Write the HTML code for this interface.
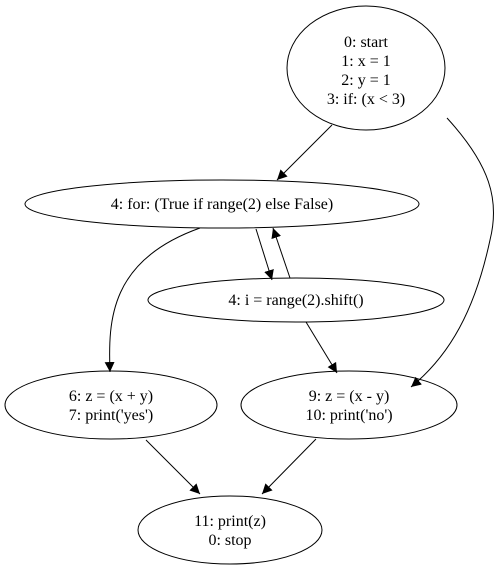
<!DOCTYPE html>
<html><head><style>body{margin:0;background:#fff}svg{display:block}text{font-family:"Liberation Serif",serif;font-size:16px;text-anchor:middle}</style></head>
<body>
<svg width="501" height="570" viewBox="0 0 501 570" xmlns="http://www.w3.org/2000/svg">
<defs><marker id="a" viewBox="0 0 10 10" refX="10" refY="5" markerWidth="10" markerHeight="10" markerUnits="userSpaceOnUse" orient="auto"><path d="M0,0L10,5L0,10z" fill="#000"/></marker></defs>
<g fill="none" stroke="#000" stroke-width="1">
<ellipse cx="366" cy="68" rx="79" ry="62"/>
<ellipse cx="222" cy="204" rx="197" ry="24"/>
<ellipse cx="296" cy="300" rx="148" ry="22"/>
<ellipse cx="111" cy="405" rx="106" ry="34"/>
<ellipse cx="349" cy="405" rx="108" ry="34"/>
<ellipse cx="230" cy="530" rx="92" ry="34"/>
<path d="M332,125L277,180" marker-end="url(#a)"/>
<path d="M447,118C490,165 500,200 490,240C475,310 450,355 411,387" marker-end="url(#a)"/>
<path d="M200,228C110,260 108,320 110,372" marker-end="url(#a)"/>
<path d="M256,229L272,280" marker-end="url(#a)"/>
<path d="M290,278L273,228" marker-end="url(#a)"/>
<path d="M306,322L337,373" marker-end="url(#a)"/>
<path d="M146,440L200,494" marker-end="url(#a)"/>
<path d="M316,439L262,494" marker-end="url(#a)"/>
</g>
<text x="366" y="47">0: start</text>
<text x="366" y="66">1: x = 1</text>
<text x="366" y="85">2: y = 1</text>
<text x="366" y="104">3: if: (x &lt; 3)</text>
<text x="222" y="209">4: for: (True if range(2) else False)</text>
<text x="296" y="305">4: i = range(2).shift()</text>
<text x="111" y="401">6: z = (x + y)</text>
<text x="111" y="420">7: print('yes')</text>
<text x="349" y="401">9: z = (x - y)</text>
<text x="349" y="420">10: print('no')</text>
<text x="230" y="526">11: print(z)</text>
<text x="230" y="545">0: stop</text>
</svg>
</body></html>
